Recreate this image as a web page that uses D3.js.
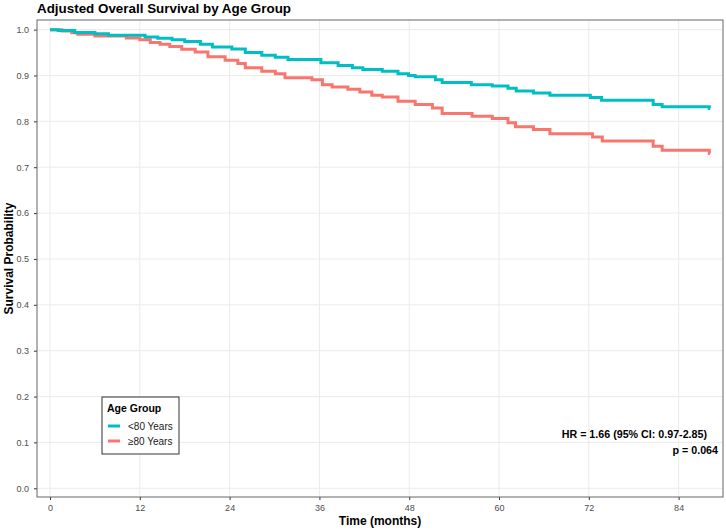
<!DOCTYPE html>
<html>
<head>
<meta charset="utf-8">
<script src="https://d3js.org/d3.v7.min.js"></script>
<style>
  body { margin: 0; background: #fff; }
  text { font-family: "Liberation Sans", Arial, sans-serif; }
</style>
</head>
<body>
<div id="chart"></div>
<script>
// Step 1: data
// =================================
var groups = ["<80 Years", "\u226580 Years"];
var colors = ["#00BFC4", "#F8766D"];

// <80 years
var timeYoung = [0, 1.1, 3.3, 6.0, 7.8, 12.7, 14.4, 16.3, 18.0, 20.1, 21.7, 24.3, 26.1, 28.3, 30.1, 31.8, 36.2, 38.5, 40.4, 41.8, 44.4, 46.5, 47.9, 48.8, 51.5, 52.4, 56.3, 59.1, 61.2, 62.3, 64.6, 66.8, 72.2, 73.7, 80.6, 81.8, 88.1, 88.2];
var survYoung = [1.0, 0.998, 0.994, 0.991, 0.988, 0.984, 0.981, 0.978, 0.974, 0.968, 0.962, 0.958, 0.950, 0.944, 0.940, 0.935, 0.928, 0.922, 0.917, 0.913, 0.909, 0.904, 0.900, 0.897, 0.891, 0.885, 0.880, 0.877, 0.872, 0.866, 0.862, 0.857, 0.852, 0.846, 0.837, 0.832, 0.828, 0.828];

// >=80 years
var timeOld = [0, 1.6, 2.9, 3.7, 6.0, 10.2, 12.0, 13.4, 14.7, 16.0, 17.6, 19.4, 21.1, 23.4, 25.1, 26.1, 28.3, 30.1, 31.4, 35.0, 36.4, 37.7, 39.8, 41.4, 43.0, 44.4, 46.5, 48.8, 51.1, 52.4, 56.4, 59.1, 61.2, 62.2, 64.6, 66.8, 72.5, 73.8, 80.6, 81.8, 88.1, 88.2];
var survOld = [1.0, 0.997, 0.993, 0.990, 0.986, 0.982, 0.978, 0.972, 0.968, 0.963, 0.957, 0.951, 0.941, 0.933, 0.926, 0.917, 0.909, 0.904, 0.895, 0.891, 0.880, 0.875, 0.870, 0.864, 0.857, 0.853, 0.844, 0.837, 0.829, 0.817, 0.811, 0.806, 0.797, 0.788, 0.782, 0.773, 0.766, 0.757, 0.746, 0.737, 0.730, 0.730];

var xTicks = [0, 12, 24, 36, 48, 60, 72, 84];
var yTicks = [0, 0.1, 0.2, 0.3, 0.4, 0.5, 0.6, 0.7, 0.8, 0.9, 1.0];

var titleText = "Adjusted Overall Survival by Age Group";
var xtext = "Time (months)";
var ytext = "Survival Probability";
var legendTitle = "Age Group";
var hrText = "HR = 1.66 (95% CI: 0.97-2.85)";
var pText = "p = 0.064";

var series = [
  { name: groups[1], color: colors[1], t: timeOld, s: survOld },
  { name: groups[0], color: colors[0], t: timeYoung, s: survYoung }
];

// Step 2: svg + scales
// =================================
var svgWidth = 726;
var svgHeight = 531;
var panel = { left: 37, right: 723, top: 20, bottom: 497 };

var svg = d3.select("#chart")
  .append("svg")
  .attr("width", svgWidth)
  .attr("height", svgHeight);

var x = d3.scaleLinear().domain([-1.74, 89.93]).range([panel.left, panel.right]);
var y = d3.scaleLinear().domain([-0.019, 1.021]).range([panel.bottom, panel.top]);

// grid
svg.append("g").selectAll("line")
  .data(yTicks).enter().append("line")
  .attr("x1", panel.left).attr("x2", panel.right)
  .attr("y1", d => y(d)).attr("y2", d => y(d))
  .attr("stroke", "#ebebeb").attr("stroke-width", 1);

svg.append("g").selectAll("line")
  .data(xTicks).enter().append("line")
  .attr("y1", panel.top).attr("y2", panel.bottom)
  .attr("x1", d => x(d)).attr("x2", d => x(d))
  .attr("stroke", "#ebebeb").attr("stroke-width", 1);

// Step 3: axes
// =================================
var bottomAxis = d3.axisBottom(x).tickValues(xTicks).tickSize(3).tickPadding(4.5).tickFormat(d3.format("d"));
var leftAxis = d3.axisLeft(y).tickValues(yTicks).tickSize(3).tickPadding(5).tickFormat(d3.format(".1f"));

var gx = svg.append("g")
  .attr("transform", `translate(0, ${panel.bottom})`)
  .call(bottomAxis);
var gy = svg.append("g")
  .attr("transform", `translate(${panel.left}, 0)`)
  .call(leftAxis);

[gx, gy].forEach(function(g) {
  g.select(".domain").remove();
  g.selectAll(".tick line").attr("stroke", "#333");
  g.selectAll(".tick text")
    .attr("fill", "#4d4d4d")
    .style("font-size", "9px")
    .style("font-family", "'Liberation Sans', Arial, sans-serif");
});

// Step 4: curves
// =================================
var line = d3.line()
  .x(d => x(d[0]))
  .y(d => y(d[1]))
  .curve(d3.curveStepAfter);

series.forEach(function(sr) {
  var pts = sr.t.map((t, i) => [t, sr.s[i]]);
  svg.append("path")
    .datum(pts)
    .attr("d", line)
    .attr("fill", "none")
    .attr("stroke", sr.color)
    .attr("stroke-width", 3);
});

// panel border
svg.append("rect")
  .attr("x", panel.left).attr("y", panel.top)
  .attr("width", panel.right - panel.left).attr("height", panel.bottom - panel.top)
  .attr("fill", "none")
  .attr("stroke", "#666").attr("stroke-width", 1);

// Step 5: labels
// =================================
svg.append("text")
  .attr("x", panel.left).attr("y", 13)
  .style("font-size", "13.4px").style("font-weight", "bold")
  .text(titleText);

svg.append("text")
  .attr("x", (panel.left + panel.right) / 2).attr("y", 525)
  .attr("text-anchor", "middle")
  .style("font-size", "12px").style("font-weight", "bold")
  .text(xtext);

svg.append("text")
  .attr("transform", `translate(12.5, ${(panel.top + panel.bottom) / 2}) rotate(-90)`)
  .attr("text-anchor", "middle")
  .style("font-size", "12px").style("font-weight", "bold")
  .text(ytext);

// annotation
svg.append("text")
  .attr("x", 707).attr("y", 437.5)
  .attr("text-anchor", "end")
  .style("font-size", "10.7px").style("font-weight", "bold")
  .text(hrText);
svg.append("text")
  .attr("x", 718).attr("y", 454)
  .attr("text-anchor", "end")
  .style("font-size", "10.7px").style("font-weight", "bold")
  .text(pText);

// Step 6: legend
// =================================
var legend = svg.append("g").attr("transform", "translate(102, 397)");
legend.append("rect")
  .attr("width", 77).attr("height", 57)
  .attr("fill", "#fff")
  .attr("stroke", "#333").attr("stroke-width", 1);
legend.append("text")
  .attr("x", 5).attr("y", 15)
  .style("font-size", "10.5px").style("font-weight", "bold")
  .text(legendTitle);

groups.forEach(function(g, i) {
  var yy = 29 + i * 15;
  legend.append("line")
    .attr("x1", 6).attr("x2", 18)
    .attr("y1", yy).attr("y2", yy)
    .attr("stroke", colors[i]).attr("stroke-width", 3);
  legend.append("text")
    .attr("x", 26).attr("y", yy + 3.7)
    .style("font-size", "10px")
    .attr("fill", "#1a1a1a")
    .text(g);
});
</script>
</body>
</html>
